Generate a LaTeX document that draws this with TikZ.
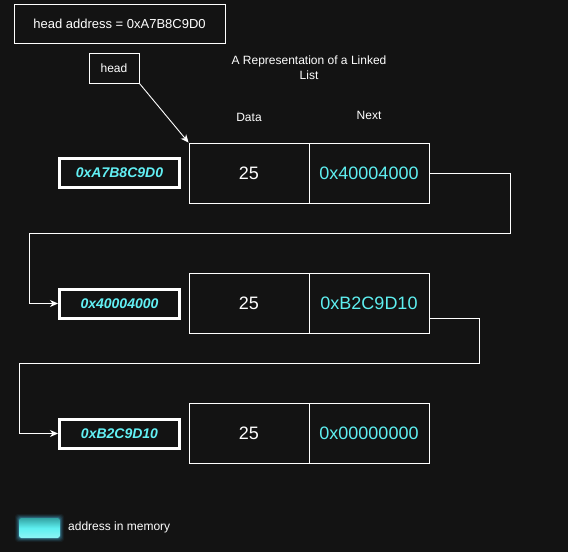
\documentclass[tikz,border=0pt]{standalone}
\usepackage{fontspec}
\setmainfont{Liberation Sans}
\usetikzlibrary{arrows.meta}
\definecolor{bg}{HTML}{131313}
\definecolor{cyantext}{HTML}{5EEFF0}
\definecolor{addrtext}{HTML}{62F0F4}
\tikzset{
  fs/.style={font=\fontsize{#1}{15}\selectfont},
  box/.style={draw=white, line width=0.9pt, rectangle, inner sep=0pt, text=white},
  cell/.style={box, minimum width=120pt, minimum height=60pt, font=\fontsize{18}{21}\selectfont},
  nextcell/.style={cell, text=cyantext},
  addr/.style={draw=white, line width=3pt, rectangle, minimum width=120pt, minimum height=29pt, inner sep=0pt, text=addrtext, font=\fontsize{14}{16}\selectfont\bfseries\itshape},
  lbl/.style={text=white, inner sep=0pt},
  conn/.style={draw=white, line width=0.9pt, -{Stealth[length=8pt,width=7pt,inset=2.5pt]}},
}
\begin{document}
\begin{tikzpicture}[x=1pt,y=-1pt]
\fill[bg] (0,0) rectangle (568,552);
\useasboundingbox (0,0) rectangle (568,552);

\node[box, minimum width=211pt, minimum height=39pt, fs=13] (haddr) at (119.5,23.5) {head address = 0xA7B8C9D0};
\node[box, minimum width=50pt, minimum height=30pt, fs=12] (head) at (114,68) {head};
\node[lbl, fs=12, align=center] (title) at (309,68) {A Representation of a Linked\\List};
\node[lbl, fs=12] (datalbl) at (249,117) {Data};
\node[lbl, fs=12] (nextlbl) at (369,115) {Next};

% row 1
\node[cell] (d1) at (249,173) {25};
\node[nextcell] (n1) at (369,173) {0x40004000};
\node[addr] (a1) at (119.5,173) {0xA7B8C9D0};
% row 2
\node[cell] (d2) at (249,303) {25};
\node[nextcell] (n2) at (369,303) {0xB2C9D10};
\node[addr] (a2) at (119.5,303.5) {0x40004000};
% row 3
\node[cell] (d3) at (249,433) {25};
\node[nextcell] (n3) at (369,433) {0x00000000};
\node[addr] (a3) at (119.5,433.5) {0xB2C9D10};

% connectors
\draw[conn] (head.south east) -- (d1.north west);

\coordinate (k1a) at (510,233);
\coordinate (k1b) at (29.5,233);
\draw[conn] (n1.east) -| (k1a) -- (k1b) |- (a2.west);

\coordinate (s2) at ([yshift=-15pt]n2.east);
\coordinate (k2a) at (479,363);
\coordinate (k2b) at (19.5,363);
\draw[conn] (s2) -| (k2a) -- (k2b) |- (a3.west);

% legend
\foreach \g/\o in {4/0.06,3/0.1,2/0.15,1/0.22}{
  \fill[cyan!70!white, opacity=\o, rounded corners=3pt] (19-\g,518-\g) rectangle (60+\g,538+\g);
}
\shade[rounded corners=2.5pt, top color=cyan!55!black!80!white, bottom color=cyantext!70!white, middle color=cyantext] (19,518) rectangle (60,538);
\node[lbl, fs=12, anchor=west] (legtext) at (68,527) {address in memory};
\end{tikzpicture}
\end{document}
